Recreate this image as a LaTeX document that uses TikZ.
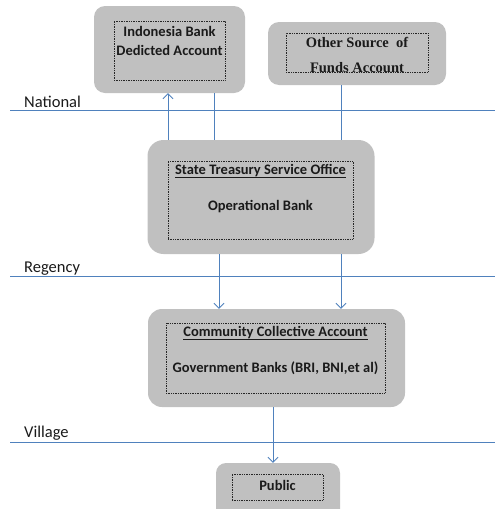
\documentclass[tikz,border=0pt]{standalone}
\usepackage{fontspec}
\setmainfont{Carlito}
\newfontfamily\serifb{Liberation Serif}
\usetikzlibrary{arrows.meta}
\definecolor{boxgray}{HTML}{C0C0C0}
\definecolor{lineblue}{HTML}{4F81BD}
\definecolor{txt}{HTML}{1A1A1A}
\tikzset{
  x=1pt,y=1pt,
  gbox/.style={draw=none,fill=boxgray,rounded corners=13pt,inner sep=0pt},
  dbox/.style={draw=black!85,densely dotted,line width=0.7pt,fill=none,inner sep=0pt},
  lbl/.style={font=\fontsize{14.5}{17}\selectfont\bfseries,text=txt,inner sep=0pt,anchor=base},
  sbl/.style={font=\serifb\fontsize{14.5}{17}\selectfont\bfseries,text=txt,inner sep=0pt,anchor=base},
  lvl/.style={font=\fontsize{16.5}{19}\selectfont,text=txt,inner sep=0pt,anchor=base west},
  hline/.style={draw=lineblue,line width=0.8pt},
  conn/.style={draw=lineblue,line width=0.8pt},
  arr/.style={conn,-{Straight Barb[length=5pt,width=10pt]}}
}
\begin{document}
\begin{tikzpicture}
\useasboundingbox (0,0) rectangle (495,-509);
% level lines
\coordinate (nl) at (10,-110); \coordinate (nr) at (495,-110);
\coordinate (rl) at (10,-276); \coordinate (rr) at (495,-276);
\coordinate (vl) at (10,-442); \coordinate (vr) at (495,-442);
\draw[hline] (nl) -- (nr);
\draw[hline] (rl) -- (rr);
\draw[hline] (vl) -- (vr);
\node[lvl] (lnat) at (24,-107) {National};
\node[lvl] (lreg) at (24,-272) {Regency};
\node[lvl] (lvil) at (24,-437) {Village};
% boxes
\node[gbox,minimum width=151pt,minimum height=87pt,rounded corners=11pt] (ib) at (169.5,-49.5) {};
\node[dbox,minimum width=111pt,minimum height=59pt] (ibi) at (169.5,-50.5) {};
\node[lbl] (ibt1) at (169.5,-36) {Indonesia Bank};
\node[lbl] (ibt2) at (169.5,-55) {Dedicted Account};

\node[gbox,minimum width=178pt,minimum height=63pt,rounded corners=11pt] (os) at (357,-53.5) {};
\node[dbox,minimum width=142pt,minimum height=39pt] (osi) at (357,-52.5) {};
\node[sbl] (ost1) at (357,-47) {Other Source\ \ of};
\node[sbl] (ost2) at (357,-72) {Funds Account};

\node[gbox,minimum width=227pt,minimum height=114pt,rounded corners=16pt] (ts) at (261,-197) {};
\node[dbox,minimum width=185pt,minimum height=78pt] (tsi) at (260.5,-200) {};
\node[lbl] (tst1) at (260.5,-174) {\underline{State Treasury Service Office}};
\node[lbl] (tst2) at (260.5,-210) {Operational Bank};

\node[gbox,minimum width=257pt,minimum height=98pt,rounded corners=14pt] (cc) at (276.5,-358) {};
\node[dbox,minimum width=219pt,minimum height=70pt] (cci) at (275.5,-358) {};
\node[lbl] (cct1) at (275.5,-336) {\underline{Community Collective Account}};
\node[lbl] (cct2) at (275.5,-372) {Government Banks (BRI, BNI,et al)};

\node[gbox,minimum width=124pt,minimum height=60pt,rounded corners=10pt] (pb) at (278,-493) {};
\node[dbox,minimum width=91pt,minimum height=26pt] (pbi) at (277.5,-487) {};
\node[lbl] (pbt) at (277.5,-490) {Public};
% connector x positions
\coordinate (xa) at (168,0);
\coordinate (xb) at (214,0);
\coordinate (xc) at (341,0);
\coordinate (xd) at (219,0);
\coordinate (xe) at (273,0);
\draw[arr] (ts.north -| xa) -- (ib.south -| xa);
\draw[conn] (ib.south -| xb) -- (ts.north -| xb);
\draw[conn] (os.south -| xc) -- (ts.north -| xc);
\draw[arr] (ts.south -| xd) -- (cc.north -| xd);
\draw[arr] (ts.south -| xc) -- (cc.north -| xc);
\draw[arr] (cc.south -| xe) -- (pb.north -| xe);
\end{tikzpicture}
\end{document}
